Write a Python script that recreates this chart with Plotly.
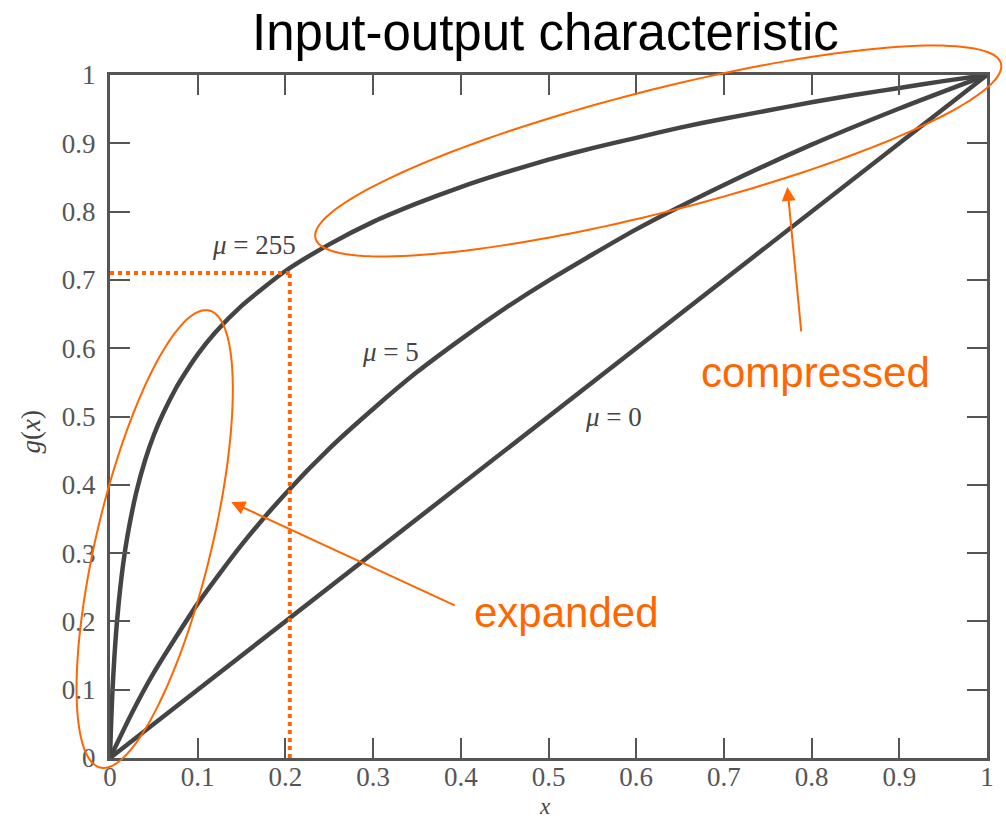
import numpy as np
import plotly.graph_objects as go

# ---------------- data ----------------
x_mu255 = [0, 0.001, 0.002, 0.003, 0.005, 0.007, 0.01, 0.015, 0.02, 0.03, 0.04, 0.05,
           0.06, 0.075, 0.08, 0.1, 0.12, 0.15, 0.2, 0.25, 0.3, 0.35, 0.4, 0.45, 0.5,
           0.55, 0.6, 0.65, 0.7, 0.75, 0.8, 0.85, 0.9, 0.95, 1.0]
g_mu255 = [0, 0.041, 0.074, 0.103, 0.148, 0.185, 0.228, 0.284, 0.326, 0.389, 0.436, 0.473,
           0.503, 0.541, 0.552, 0.591, 0.623, 0.662, 0.713, 0.752, 0.785, 0.812, 0.836, 0.857, 0.876,
           0.893, 0.908, 0.923, 0.936, 0.948, 0.960, 0.971, 0.981, 0.991, 1.0]

x_mu5 = [0, 0.025, 0.05, 0.1, 0.15, 0.2, 0.25, 0.3, 0.35, 0.4, 0.45, 0.5,
         0.6, 0.7, 0.8, 0.9, 1.0]
g_mu5 = [0, 0.066, 0.125, 0.226, 0.312, 0.387, 0.453, 0.511, 0.565, 0.613, 0.658, 0.699,
         0.774, 0.839, 0.898, 0.951, 1.0]

x_mu0 = [0, 1.0]
g_mu0 = [0, 1.0]

curve_labels = ["<i>μ</i> = 255", "<i>μ</i> = 5", "<i>μ</i> = 0"]

tick_vals = [0, 0.1, 0.2, 0.3, 0.4, 0.5, 0.6, 0.7, 0.8, 0.9, 1]
tick_text = ["0", "0.1", "0.2", "0.3", "0.4", "0.5", "0.6", "0.7", "0.8", "0.9", "1"]

marker_x = 0.205   # dotted guide: input level
marker_y = 0.71    # dotted guide: output level

# ---------------- layout geometry ----------------
W, H = 1006, 820
ML, MR, MT, MB = 110, 13, 75, 62
PW = W - ML - MR
PH = H - MT - MB

def px(xp):
    return (xp - ML) / PW

def py(yp):
    return (H - MB - yp) / PH

ORANGE = "#ff6600"
CURVE = "#444444"
AXIS = "#555555"
SERIF = "Liberation Serif, Times New Roman, serif"
SANS = "Liberation Sans, Arial, sans-serif"

def ellipse_path(cx, cy, a, b, ang_deg, n=160):
    t = np.linspace(0, 2 * np.pi, n)
    th = np.radians(ang_deg)
    xs = cx + a * np.cos(t) * np.cos(th) - b * np.sin(t) * np.sin(th)
    ys = cy + a * np.cos(t) * np.sin(th) + b * np.sin(t) * np.cos(th)
    pts = [f"{px(x):.5f},{py(y):.5f}" for x, y in zip(xs, ys)]
    return "M " + " L ".join(pts) + " Z"

fig = go.Figure()
for xs, ys in [(x_mu255, g_mu255), (x_mu5, g_mu5), (x_mu0, g_mu0)]:
    fig.add_trace(go.Scatter(x=xs, y=ys, mode="lines",
                             line=dict(color=CURVE, width=4.5, shape="spline", smoothing=0.6),
                             showlegend=False, hoverinfo="skip"))

# dotted guides
fig.add_trace(go.Scatter(x=[0, marker_x], y=[marker_y, marker_y], mode="lines",
                         line=dict(color=ORANGE, width=4, dash="dot"),
                         showlegend=False, hoverinfo="skip"))
fig.add_trace(go.Scatter(x=[marker_x, marker_x], y=[0, marker_y], mode="lines",
                         line=dict(color=ORANGE, width=4, dash="dot"),
                         showlegend=False, hoverinfo="skip"))

shapes = [
    dict(type="path", xref="paper", yref="paper",
         path=ellipse_path(662, 151, 356, 61, -14.2),
         line=dict(color=ORANGE, width=2), fillcolor="rgba(0,0,0,0)", layer="above"),
    dict(type="path", xref="paper", yref="paper",
         path=ellipse_path(155, 539, 235, 58, -76.5),
         line=dict(color=ORANGE, width=2), fillcolor="rgba(0,0,0,0)", layer="above"),
]

def label(text, xp, yp, font, **kw):
    d = dict(text=text, x=px(xp), y=py(yp), xref="paper", yref="paper",
             showarrow=False, xanchor="center", yanchor="middle", font=font)
    d.update(kw)
    return d

annotations = [
    label("Input-output characteristic", 548, 32, dict(family=SANS, size=51, color="black")),
    label("compressed", 820, 372, dict(family=SANS, size=42, color=ORANGE)),
    label("expanded", 570, 612, dict(family=SANS, size=42, color=ORANGE)),
    # curve labels
    label(curve_labels[0], 255, 245, dict(family=SERIF, size=27, color=CURVE)),
    label(curve_labels[1], 392, 352, dict(family=SERIF, size=27, color=CURVE)),
    label(curve_labels[2], 617, 417, dict(family=SERIF, size=27, color=CURVE)),
    # axis titles
    label("<i>x</i>", 548, 806, dict(family=SERIF, size=23, color=CURVE), borderpad=0),
    label("<i>g</i>(<i>x</i>)", 30, 432, dict(family=SERIF, size=27, color=CURVE), textangle=-90),
    # arrows
    dict(text="", x=px(792), y=py(187), xref="paper", yref="paper",
         showarrow=True, ax=14, ay=146, arrowhead=2, arrowsize=1.4, arrowwidth=2,
         arrowcolor=ORANGE),
    dict(text="", x=px(232), y=py(502), xref="paper", yref="paper",
         showarrow=True, ax=225, ay=104, arrowhead=2, arrowsize=1.4, arrowwidth=2,
         arrowcolor=ORANGE),
]

axis_common = dict(range=[0, 1], showgrid=False, zeroline=False,
                   showline=True, linecolor=AXIS, linewidth=3, mirror="ticks",
                   ticks="inside", ticklen=20, tickwidth=2, tickcolor=AXIS,
                   tickvals=tick_vals, ticktext=tick_text,
                   tickfont=dict(family=SERIF, size=27, color=AXIS),
                   fixedrange=True)

fig.update_layout(
    width=W, height=H,
    margin=dict(l=ML, r=MR, t=MT, b=MB, pad=0),
    paper_bgcolor="white", plot_bgcolor="white",
    xaxis=dict(axis_common, ticklabelstandoff=-7),
    yaxis=dict(axis_common, ticklabelstandoff=6),
    shapes=shapes, annotations=annotations,
    showlegend=False,
)

fig.write_html("out.html", config={"displayModeBar": False},
               post_script="document.body.style.margin='0';document.body.style.overflow='hidden';")
